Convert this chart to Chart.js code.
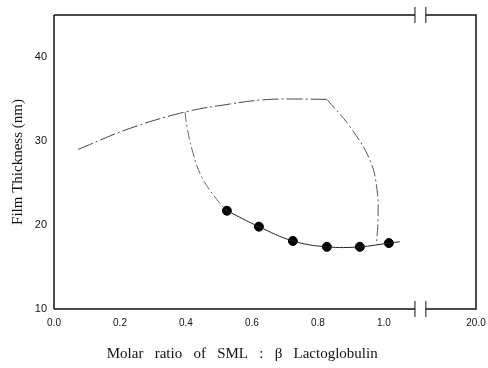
<!DOCTYPE html>
<html>
<head>
<meta charset="utf-8">
<script src="https://cdn.jsdelivr.net/npm/chart.js@4.4.0/dist/chart.umd.min.js"></script>
<style>
  html, body { margin: 0; padding: 0; background: #fff; }
  #wrap { width: 488px; height: 368px; }
</style>
</head>
<body>
<div id="wrap"><canvas id="film"></canvas></div>
<script>
// x ticks (0 .. 1.0 on a linear scale, then 20.0 after the axis break)
const xTickValues = [0, 0.2, 0.4, 0.6, 0.8, 1.0, 1.279];
const xTickLabels = ["0.0", "0.2", "0.4", "0.6", "0.8", "1.0", "20.0"];
const yTickValues = [10, 20, 30, 40];
const breakFrom = 1.094;
const breakTo = 1.127;
const xTitle = 'Molar   ratio   of   SML   :   β   Lactoglobulin';

// upper branch
const upperX = [0.073, 0.23, 0.397, 0.533, 0.633, 0.73, 0.827];
const upperY = [29.0, 31.5, 33.45, 34.4, 34.9, 35.0, 34.95];
// branch falling from 0.4
const leftX = [0.397, 0.403, 0.421, 0.448, 0.494, 0.524];
const leftY = [33.45, 31.7, 28.6, 25.7, 23.0, 21.7];
// branch falling from ~0.83
const rightX = [0.827, 0.897, 0.958, 0.979, 0.982, 0.977];
const rightY = [34.95, 31.7, 27.7, 24.2, 20.6, 17.7];
// measured points and their curve
const dotX = [0.524, 0.621, 0.724, 0.827, 0.927, 1.015];
const dotY = [21.7, 19.8, 18.1, 17.4, 17.4, 17.85];
const fitX = [0.524, 0.621, 0.724, 0.827, 0.927, 1.015, 1.048];
const fitY = [21.7, 19.8, 18.1, 17.4, 17.4, 17.85, 18.0];

const pts = (xs, ys) => xs.map((x, i) => ({ x: x, y: ys[i] }));

function lineSet(xs, ys, color, dash, tension) {
  return {
    type: 'line',
    data: pts(xs, ys),
    borderColor: color,
    borderWidth: 1,
    borderDash: dash,
    pointRadius: 0,
    tension: tension,
    fill: false
  };
}

// frame with the break gaps on top and bottom, plus the x title
const framePlugin = {
  id: 'frame',
  afterDraw(chart) {
    const ctx = chart.ctx;
    const a = chart.chartArea;
    const xs = chart.scales.x;
    const b1 = xs.getPixelForValue(breakFrom);
    const b2 = xs.getPixelForValue(breakTo);
    ctx.save();
    ctx.strokeStyle = '#111';
    ctx.lineWidth = 1.5;
    ctx.beginPath();
    ctx.moveTo(a.left, a.top); ctx.lineTo(a.left, a.bottom);
    ctx.moveTo(a.left, a.bottom); ctx.lineTo(b1, a.bottom);
    ctx.moveTo(b2, a.bottom); ctx.lineTo(a.right, a.bottom);
    ctx.lineTo(a.right, a.top);
    ctx.lineTo(b2, a.top);
    ctx.moveTo(b1, a.top); ctx.lineTo(a.left, a.top);
    ctx.stroke();
    ctx.lineWidth = 1;
    ctx.beginPath();
    [a.top, a.bottom].forEach(y => {
      ctx.moveTo(b1, y - 8); ctx.lineTo(b1, y + 8);
      ctx.moveTo(b2, y - 8); ctx.lineTo(b2, y + 8);
    });
    ctx.stroke();

    ctx.fillStyle = '#111';
    ctx.font = '15px "Liberation Serif"';
    ctx.textAlign = 'center';
    ctx.textBaseline = 'middle';
    ctx.fillText(xTitle, a.left + a.width * 0.446, a.bottom + 45);
    ctx.restore();
  }
};

new Chart(document.getElementById('film'), {
  type: 'scatter',
  data: {
    datasets: [
      lineSet(upperX, upperY, '#444', [16, 3, 2, 3], 0.4),
      lineSet(leftX, leftY, '#666', [10, 3, 2, 3], 0.4),
      lineSet(rightX, rightY, '#555', [12, 3, 2, 3], 0.4),
      lineSet(fitX, fitY, '#222', [], 0.4),
      {
        data: pts(dotX, dotY),
        backgroundColor: '#000',
        borderColor: '#000',
        pointRadius: 4.5,
        showLine: false
      }
    ]
  },
  plugins: [framePlugin],
  options: {
    responsive: true,
    maintainAspectRatio: false,
    animation: false,
    layout: { padding: { top: 15, right: 12, left: 0, bottom: 0 } },
    plugins: { legend: { display: false }, tooltip: { enabled: false } },
    scales: {
      x: {
        type: 'linear',
        min: 0,
        max: 1.279,
        afterBuildTicks: s => { s.ticks = xTickValues.map(v => ({ value: v })); },
        afterFit: s => { s.height = 59; s.paddingLeft = 0; s.paddingRight = 0; },
        grid: { display: false, drawTicks: false },
        border: { display: false },
        ticks: {
          padding: 8,
          color: '#111',
          font: { family: 'Liberation Sans', size: 10 },
          maxRotation: 0,
          callback: (v, i) => xTickLabels[i]
        }
      },
      y: {
        min: 10,
        max: 45,
        afterBuildTicks: s => { s.ticks = yTickValues.map(v => ({ value: v })); },
        afterFit: s => { s.width = 54; },
        grid: { display: false, drawTicks: false },
        border: { display: false },
        ticks: {
          padding: 7,
          color: '#111',
          font: { family: 'Liberation Sans', size: 11 }
        },
        title: {
          display: true,
          text: 'Film Thickness (nm)',
          color: '#111',
          font: { family: 'Liberation Serif', size: 15 },
          padding: { top: 9, bottom: 2 }
        }
      }
    }
  }
});
</script>
</body>
</html>
